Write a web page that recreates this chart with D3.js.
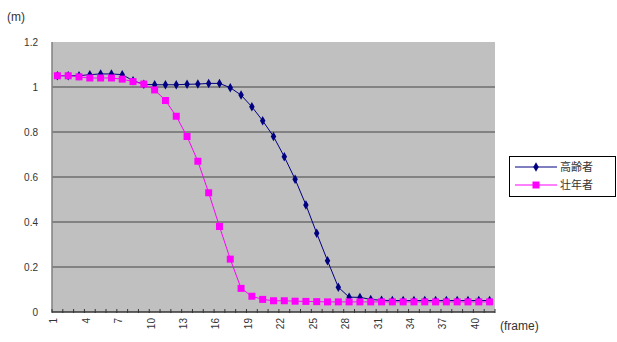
<!DOCTYPE html>
<html><head><meta charset="utf-8">
<script src="https://cdn.jsdelivr.net/npm/d3@7/dist/d3.min.js"></script>
<style>
html,body{margin:0;padding:0;background:#fff;}
svg{display:block;font-family:"Liberation Sans","DejaVu Sans",sans-serif;}
</style></head>
<body>
<svg id="chart" width="617" height="342"></svg>
<script>
// ---- data ----
const frames = d3.range(1, 42); // 1..41
const tickLabels = [1,4,7,10,13,16,19,22,25,28,31,34,37,40];
const yTicks = [0,0.2,0.4,0.6,0.8,1,1.2];
const seriesNames = ["高齢者","壮年者"];
const elderly = [1.05,1.05,1.05,1.055,1.058,1.058,1.055,1.028,1.012,1.01,
                 1.01,1.01,1.012,1.013,1.016,1.016,0.997,0.964,0.912,0.85,
                 0.78,0.69,0.59,0.476,0.35,0.228,0.11,0.066,0.065,0.056,
                 0.052,0.051,0.051,0.051,0.051,0.051,0.051,0.051,0.051,0.051,0.051];
const adult = [1.05,1.05,1.045,1.04,1.04,1.04,1.035,1.024,1.013,0.987,
               0.94,0.87,0.78,0.67,0.53,0.38,0.235,0.105,0.07,0.056,
               0.05,0.05,0.048,0.047,0.046,0.045,0.045,0.045,0.045,0.045,
               0.045,0.045,0.045,0.045,0.045,0.045,0.045,0.045,0.045,0.045,0.045];

// ---- layout ----
const svg = d3.select("#chart");
const L = 52, R = 495, T = 42, B = 312;
const x = d3.scaleBand().domain(frames).range([L, R]).padding(0);
const cx = d => x(d) + x.bandwidth()/2;
const y = d3.scaleLinear().domain([0, 1.2]).range([B, T]);

// plot area
svg.append("rect").attr("x", L).attr("y", T).attr("width", R-L).attr("height", B-T)
  .attr("fill", "#c0c0c0");

// gridlines
svg.append("g").selectAll("line").data(yTicks.filter(v => v > 0 && v < 1.2)).join("line")
  .attr("x1", L).attr("x2", R).attr("y1", d => y(d)).attr("y2", d => y(d))
  .attr("stroke", "#6e6e6e").attr("stroke-width", 1.5);

// y axis line
svg.append("line").attr("x1", L).attr("x2", L).attr("y1", T).attr("y2", B)
  .attr("stroke", "#808080").attr("stroke-width", 1.5);

// y tick labels
svg.append("g").selectAll("text").data(yTicks).join("text")
  .attr("x", 38).attr("y", d => y(d)).attr("dy", "0.35em")
  .attr("text-anchor", "end").attr("font-size", 10).attr("fill", "#333")
  .text(d => d3.format("~g")(d));

// x axis line + boundary ticks
svg.append("line").attr("x1", L).attr("x2", R).attr("y1", B).attr("y2", B)
  .attr("stroke", "#333").attr("stroke-width", 1.5);
const bounds = frames.map(d => x(d)).concat([R]);
svg.append("g").selectAll("line").data(bounds).join("line")
  .attr("x1", d => d).attr("x2", d => d).attr("y1", B - 3).attr("y2", B + 1)
  .attr("stroke", "#333").attr("stroke-width", 1);

// x tick labels (rotated)
svg.append("g").selectAll("text").data(tickLabels).join("text")
  .attr("transform", d => `translate(${cx(d)},${B + 6}) rotate(-90)`)
  .attr("text-anchor", "end").attr("font-size", 10).attr("fill", "#333")
  .text(d => d);

// axis titles
svg.append("text").attr("x", 7).attr("y", 21).attr("font-size", 12).attr("fill", "#333").text("(m)");
svg.append("text").attr("x", 500).attr("y", 330).attr("font-size", 12).attr("fill", "#333").text("(frame)");

// series
const line = d3.line().x((v, i) => cx(frames[i])).y(v => y(v));
svg.append("path").datum(elderly).attr("d", line).attr("fill", "none")
  .attr("stroke", "#000080").attr("stroke-width", 1);
svg.append("g").selectAll("path").data(elderly).join("path")
  .attr("d", d3.symbol(d3.symbolDiamond, 26))
  .attr("transform", (v, i) => `translate(${cx(frames[i])},${y(v)})`)
  .attr("fill", "#000080");
svg.append("path").datum(adult).attr("d", line).attr("fill", "none")
  .attr("stroke", "#ff00ff").attr("stroke-width", 1);
svg.append("g").selectAll("rect").data(adult).join("rect")
  .attr("x", (v, i) => cx(frames[i]) - 3.5).attr("y", v => y(v) - 3.5)
  .attr("width", 7).attr("height", 7).attr("fill", "#ff00ff");

// legend
const lg = svg.append("g");
lg.append("rect").attr("x", 509.5).attr("y", 156.5).attr("width", 106).attr("height", 40)
  .attr("fill", "#fff").attr("stroke", "#000").attr("stroke-width", 1);
const colors = ["#000080", "#ff00ff"];
seriesNames.forEach((name, i) => {
  const yy = 167 + i * 18;
  lg.append("line").attr("x1", 515).attr("x2", 557).attr("y1", yy).attr("y2", yy)
    .attr("stroke", colors[i]).attr("stroke-width", 1);
  if (i === 0) {
    lg.append("path").attr("d", d3.symbol(d3.symbolDiamond, 26))
      .attr("transform", `translate(536,${yy})`).attr("fill", colors[i]);
  } else {
    lg.append("rect").attr("x", 532.5).attr("y", yy - 3.5).attr("width", 7).attr("height", 7)
      .attr("fill", colors[i]);
  }
  lg.append("text").attr("x", 560).attr("y", yy).attr("dy", "0.36em")
    .attr("font-size", 11).attr("fill", "#333")
    .attr("font-family", "'Noto Sans CJK JP', sans-serif").text(name);
});
</script>
</body></html>
